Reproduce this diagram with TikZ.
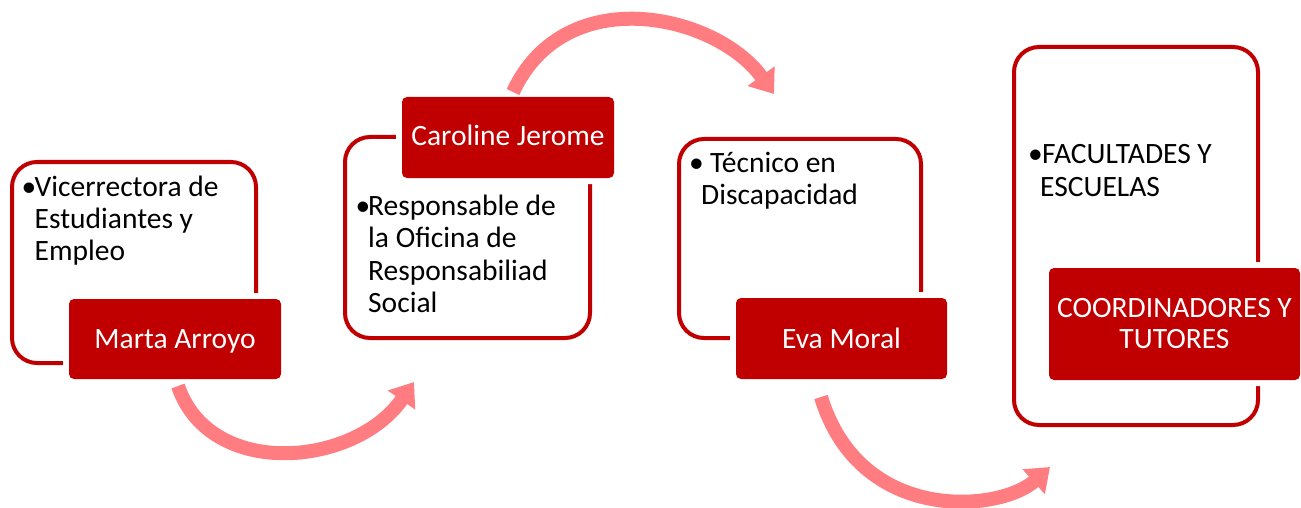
\documentclass[tikz,border=0pt]{standalone}
\usepackage{fontspec}
\setmainfont{Carlito}
\usetikzlibrary{arrows.meta}
\definecolor{dred}{HTML}{C00000}
\definecolor{salmon}{HTML}{FF7C80}
\newcommand{\linesof}[1]{\begin{tabular}[t]{@{}l@{}}#1\end{tabular}}
\tikzset{
  outline/.style={draw=dred, line width=4pt, rounded corners=25pt},
  namebox/.style={fill=dred, draw=none, rounded corners=5pt, inner sep=0pt,
    preaction={draw=white, line width=12pt}},
  bodytxt/.style={anchor=base west, inner sep=0pt, text=black,
    font=\fontsize{29.5}{32.5}\selectfont},
  nametxt/.style={anchor=base, inner sep=0pt, align=center, text=white,
    font=\fontsize{29.5}{31}\selectfont},
  flow/.style={draw=salmon, line width=14pt, -{Triangle[length=22pt,width=32pt]}},
}
\begin{document}
\begin{tikzpicture}[x=1pt,y=-1pt]
\useasboundingbox (0,0) rectangle (1301,508);
% outer frames
\draw[outline] (12,162) rectangle (256,363);
\draw[outline] (345,137) rectangle (590,338);
\draw[outline] (679,139) rectangle (921,338);
\draw[outline] (1014,47) rectangle (1258,425);
% name boxes
\node[namebox, minimum width=212pt, minimum height=80pt] (b1) at (175,339) {};
\node[namebox, minimum width=212pt, minimum height=81pt] (b2) at (508,137.5) {};
\node[namebox, minimum width=211pt, minimum height=81pt] (b3) at (841.5,338.5) {};
\node[namebox, minimum width=251pt, minimum height=112pt] (b4) at (1174.5,324) {};
% name texts
\node[nametxt] (n1) at (175,348) {Marta Arroyo};
\node[nametxt] (n2) at (508,146) {Caroline Jerome};
\node[nametxt] (n3) at (841.5,348) {Eva Moral};
\node[nametxt] (n4) at (1174.5,348) {COORDINADORES Y\\TUTORES};
% body texts
\node[bodytxt] (u1) at (21.5,196) {\textbullet};
\node[bodytxt] (t1) at (34.5,196) {\linesof{Vicerrectora de\\Estudiantes y\\Empleo}};
\node[bodytxt] (u2) at (355.5,215) {\textbullet};
\node[bodytxt] (t2) at (368,215) {\linesof{Responsable de\\la Oficina de\\Responsabiliad\\Social}};
\node[bodytxt] (u3) at (689,172) {\textbullet};
\node[bodytxt] (t3) at (701,172) {\linesof{\hspace{9pt}Técnico en\\Discapacidad}};
\node[bodytxt] (u4) at (1028,164) {\textbullet};
\node[bodytxt] (t4) at (1040,164) {\linesof{\hspace{2pt}FACULTADES Y\\ESCUELAS}};
% connectors
\coordinate (a1s) at (178,386);
\coordinate (a1e) at (414,382);
\coordinate (a2s) at (513,92);
\coordinate (a2e) at (774,94);
\coordinate (a3s) at (821,397);
\coordinate (a3e) at (1050,467);
\draw[flow] (a1s) .. controls (210,480) and (355,467) .. (a1e);
\draw[flow] (a2s) .. controls (565,-20) and (716,14) .. (a2e);
\draw[flow] (a3s) .. controls (860,525) and (1000,512) .. (a3e);
\end{tikzpicture}
\end{document}
